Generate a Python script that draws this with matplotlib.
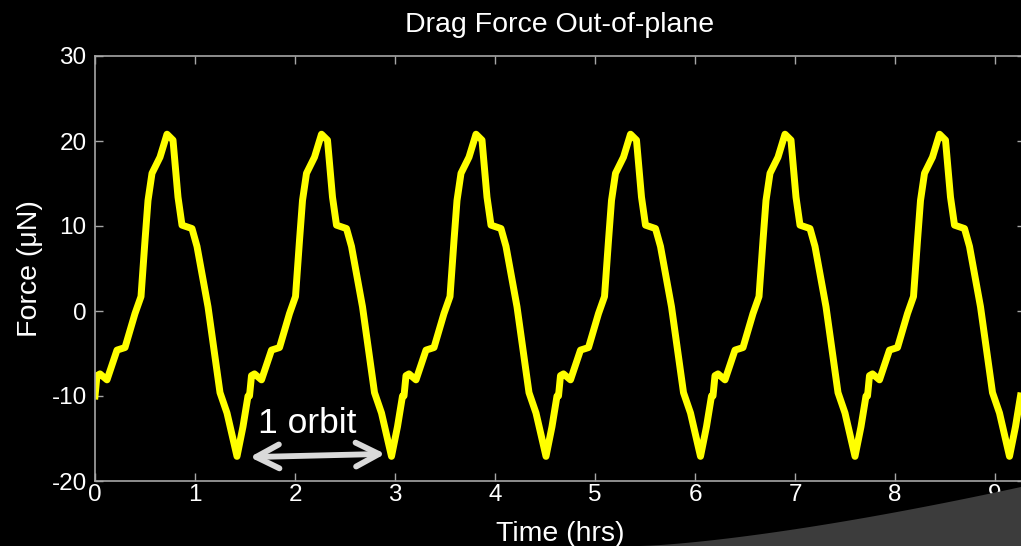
import matplotlib.pyplot as plt
import numpy as np
from matplotlib.patches import Polygon, FancyArrowPatch

# one orbit of the out-of-plane drag force (hrs, uN)
orbit_t = [0.0, 0.02, 0.05, 0.12, 0.22, 0.30, 0.40, 0.46, 0.50, 0.53, 0.57,
           0.65, 0.72, 0.78, 0.83, 0.87, 0.97, 1.02, 1.13, 1.25, 1.32, 1.42,
           1.48, 1.53]
orbit_f = [-10.0, -7.6, -7.4, -8.1, -4.6, -4.3, -0.3, 1.7, 8.3, 13.0, 16.2,
           18.1, 20.8, 20.1, 13.4, 10.1, 9.7, 7.6, 0.5, -9.6, -12.0, -17.1,
           -13.6, -10.0]
orbit_period = 1.545
n_orbits = 6

time = np.concatenate([np.array(orbit_t) + k * orbit_period for k in range(n_orbits)])
force = np.tile(orbit_f, n_orbits)

plt.rcParams['font.family'] = ['Liberation Sans', 'DejaVu Sans']
plt.rcParams['axes.unicode_minus'] = False

fig = plt.figure(figsize=(10.21, 5.46), dpi=100, facecolor='black')
ax = fig.add_axes([95 / 1021, 1 - 481 / 546, 930 / 1021, (481 - 56) / 546])
ax.set_facecolor('black')

# grey swoosh in the slide corner
sx = np.linspace(640, 1021, 40)
sy = 546 - 59 * ((sx - 640) / 381) ** 1.4
pts = [(x / 1021, 1 - y / 546) for x, y in zip(sx, sy)] + [(1, 0), (640 / 1021, 0)]
fig.patches.append(Polygon(pts, closed=True, transform=fig.transFigure,
                           facecolor='#3c3c3c', edgecolor='none', zorder=0))

ax.plot(time, force, color='#ffff00', lw=5, solid_joinstyle='round')

ax.set_xlim(0, 9.3)
ax.set_ylim(-20, 30)
ax.set_xticks(range(0, 10))
ax.set_yticks(range(-20, 31, 10))

gray = '#a6a6a6'
for s in ax.spines.values():
    s.set_color(gray)
    s.set_linewidth(1.2)
ax.tick_params(direction='in', length=6, width=1, color=gray,
               labelcolor='white', labelsize=17.5, top=True, right=True)
ax.tick_params(axis='x', pad=2)
ax.tick_params(axis='y', pad=6)

ax.set_title('Drag Force Out-of-plane', color='white', fontsize=20.5, pad=17)
ax.set_ylabel('Force (\u03bcN)', color='white', fontsize=20.5, labelpad=6)
ax.set_xlabel('Time (hrs)', color='white', fontsize=20.5, labelpad=11)

ax.add_patch(FancyArrowPatch((1.52, -17.2), (2.93, -16.8),
                             arrowstyle='<->,head_length=8.3,head_width=4.3',
                             color='#d9d9d9', lw=4.2, mutation_scale=2,
                             capstyle='round', joinstyle='round'))
ax.text(1.63, -14.3, '1 orbit', color='white', fontsize=25.5, va='baseline')

fig.savefig('out.png', dpi=100, facecolor='black')
